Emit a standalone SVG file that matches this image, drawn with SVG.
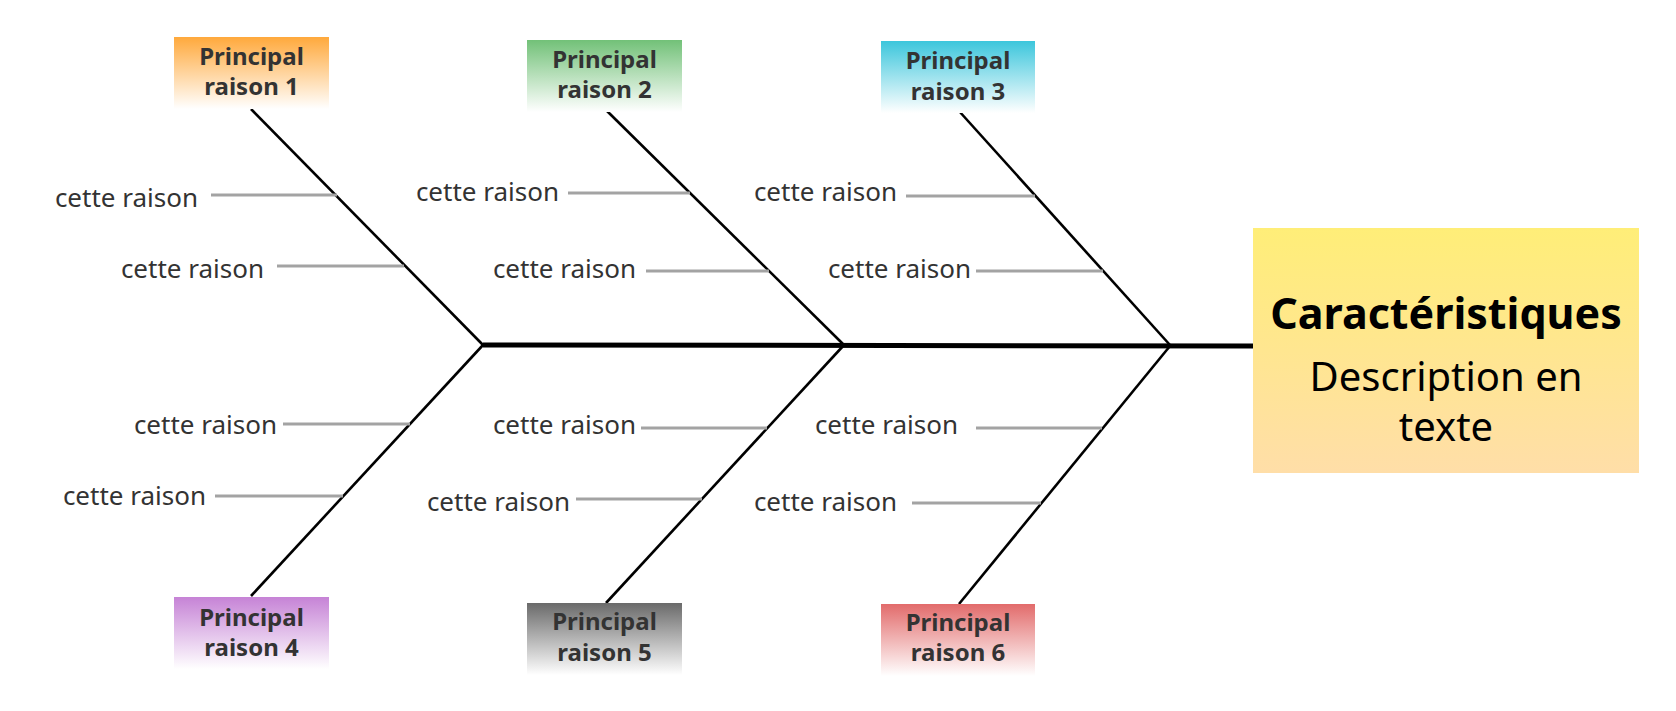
<svg xmlns="http://www.w3.org/2000/svg" width="1676" height="711" viewBox="0 0 1676 711">
<defs>
<linearGradient id="gMain" x1="0" y1="0" x2="0" y2="1"><stop offset="0" stop-color="#FFEE78"/><stop offset="1" stop-color="#FFDEA8"/></linearGradient>
<linearGradient id="g1" x1="0" y1="0" x2="0" y2="1"><stop offset="0" stop-color="#FFA93C"/><stop offset="1" stop-color="#FFFFFF"/></linearGradient>
<linearGradient id="g2" x1="0" y1="0" x2="0" y2="1"><stop offset="0" stop-color="#72C178"/><stop offset="1" stop-color="#FFFFFF"/></linearGradient>
<linearGradient id="g3" x1="0" y1="0" x2="0" y2="1"><stop offset="0" stop-color="#3CC6DC"/><stop offset="1" stop-color="#FFFFFF"/></linearGradient>
<linearGradient id="g4" x1="0" y1="0" x2="0" y2="1"><stop offset="0" stop-color="#C683D6"/><stop offset="1" stop-color="#FFFFFF"/></linearGradient>
<linearGradient id="g5" x1="0" y1="0" x2="0" y2="1"><stop offset="0" stop-color="#6A6A6A"/><stop offset="1" stop-color="#FFFFFF"/></linearGradient>
<linearGradient id="g6" x1="0" y1="0" x2="0" y2="1"><stop offset="0" stop-color="#E26B6B"/><stop offset="1" stop-color="#FFFFFF"/></linearGradient>
</defs>
<style>
.pt{font-family:"Noto Sans","Open Sans",sans-serif;font-weight:bold;font-size:24px;fill:#333;text-anchor:middle}
.lb{font-family:"Noto Sans","Open Sans",sans-serif;font-size:26px;fill:#333;text-anchor:end}
.bone{stroke:#000;stroke-width:2.6;fill:none}
.spine{stroke:#000;stroke-width:5;fill:none}
.sub{stroke:#A3A3A3;stroke-width:3;fill:none}
.t1{font-family:"Noto Sans","Open Sans",sans-serif;font-weight:bold;font-size:43px;fill:#000;text-anchor:middle}
.t2{font-family:"Noto Sans","Open Sans",sans-serif;font-size:40px;fill:#000;text-anchor:middle}
</style>
<rect width="1676" height="711" fill="#FFFFFF"/>
<g id="connectors">
<line class="spine" x1="483" y1="345" x2="1253" y2="346"/>
<line class="bone" x1="251" y1="109" x2="483" y2="345"/>
<line class="bone" x1="606" y1="110" x2="844" y2="345"/>
<line class="bone" x1="959" y1="111" x2="1170" y2="345"/>
<line class="bone" x1="483" y1="345" x2="251" y2="596"/>
<line class="bone" x1="844" y1="345" x2="606" y2="603"/>
<line class="bone" x1="1170" y1="346" x2="959" y2="604"/>
<line class="sub" x1="211" y1="195" x2="337" y2="195"/>
<line class="sub" x1="277" y1="266" x2="404" y2="266"/>
<line class="sub" x1="568" y1="193" x2="690" y2="193"/>
<line class="sub" x1="646" y1="271" x2="769" y2="271"/>
<line class="sub" x1="906" y1="196" x2="1035" y2="196"/>
<line class="sub" x1="976" y1="271" x2="1103" y2="271"/>
<line class="sub" x1="283" y1="424" x2="410" y2="424"/>
<line class="sub" x1="215" y1="496" x2="343" y2="496"/>
<line class="sub" x1="641" y1="428" x2="767" y2="428"/>
<line class="sub" x1="576" y1="499" x2="702" y2="499"/>
<line class="sub" x1="976" y1="428" x2="1102" y2="428"/>
<line class="sub" x1="912" y1="503" x2="1041" y2="503"/>
</g>
<g id="labels">
<text class="lb" x="198" y="207">cette raison</text>
<text class="lb" x="264" y="278">cette raison</text>
<text class="lb" x="559" y="201">cette raison</text>
<text class="lb" x="636" y="278">cette raison</text>
<text class="lb" x="897" y="201">cette raison</text>
<text class="lb" x="971" y="278">cette raison</text>
<text class="lb" x="277" y="434">cette raison</text>
<text class="lb" x="206" y="505">cette raison</text>
<text class="lb" x="636" y="434">cette raison</text>
<text class="lb" x="570" y="511">cette raison</text>
<text class="lb" x="958" y="434">cette raison</text>
<text class="lb" x="897" y="511">cette raison</text>
</g>
<g id="node-main">
<rect x="1253" y="228" width="386" height="245" fill="url(#gMain)"/>
<text class="t1" x="1446" y="329">Caractéristiques</text>
<text class="t2" x="1446" y="391">Description en</text>
<text class="t2" x="1446" y="441">texte</text>
</g>
<g id="node-1">
<rect x="174" y="37" width="155" height="72" fill="url(#g1)"/>
<text class="pt" x="251.5" y="65">Principal</text>
<text class="pt" x="251.5" y="95">raison 1</text>
</g>
<g id="node-2">
<rect x="527" y="40" width="155" height="72" fill="url(#g2)"/>
<text class="pt" x="604.5" y="68">Principal</text>
<text class="pt" x="604.5" y="98">raison 2</text>
</g>
<g id="node-3">
<rect x="881" y="41" width="154" height="72" fill="url(#g3)"/>
<text class="pt" x="958" y="69">Principal</text>
<text class="pt" x="958" y="100">raison 3</text>
</g>
<g id="node-4">
<rect x="174" y="597" width="155" height="72" fill="url(#g4)"/>
<text class="pt" x="251.5" y="626">Principal</text>
<text class="pt" x="251.5" y="656">raison 4</text>
</g>
<g id="node-5">
<rect x="527" y="603" width="155" height="72" fill="url(#g5)"/>
<text class="pt" x="604.5" y="630">Principal</text>
<text class="pt" x="604.5" y="661">raison 5</text>
</g>
<g id="node-6">
<rect x="881" y="604" width="154" height="72" fill="url(#g6)"/>
<text class="pt" x="958" y="631">Principal</text>
<text class="pt" x="958" y="661">raison 6</text>
</g>
</svg>
